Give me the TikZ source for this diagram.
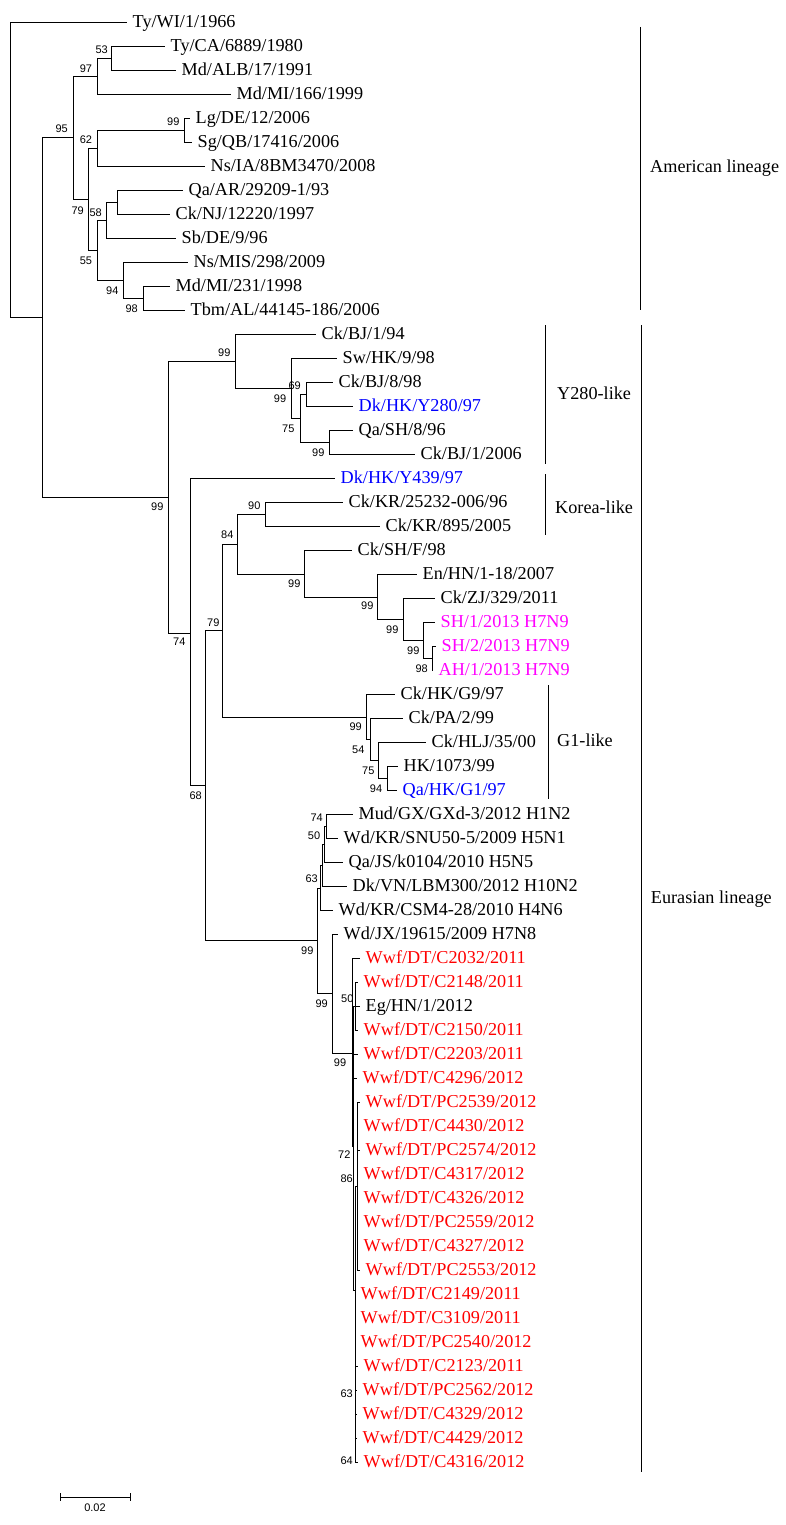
\documentclass[tikz,border=0pt]{standalone}
\usepackage{fontspec}
\setmainfont{Liberation Serif}
\newfontfamily\bsfont{Liberation Sans}
\usetikzlibrary{calc}
\definecolor{tblue}{RGB}{0,0,255}
\definecolor{tmag}{RGB}{255,0,255}
\definecolor{tred}{RGB}{255,0,0}
\tikzset{
  branch/.style={line width=0.9pt, line join=miter},
  leaf/.style={anchor=base west, inner sep=0pt, font=\fontsize{18.2}{20}\selectfont},
  bs/.style={inner sep=0pt, font=\bsfont\fontsize{11}{12}\selectfont},
  clade/.style={anchor=base west, inner sep=0pt, font=\fontsize{18.2}{20}\selectfont},
  cladebar/.style={line width=1pt}
}
\newcommand{\mkleaf}[5]{%
  \coordinate (#1) at (#2,#3);
  \path (#1) ++(5.5,5) node[leaf,text=#4] (#1-l) {#5};
}
\begin{document}
\begin{tikzpicture}[x=1pt,y=-1pt]
\fill[white] (0,0) rectangle (786,1525);
\useasboundingbox (0,0) rectangle (786,1525);

% leaves
\mkleaf{L0}{127}{22.5}{black}{Ty/WI/1/1966}
\mkleaf{L1}{165}{46.5}{black}{Ty/CA/6889/1980}
\mkleaf{L2}{176}{70.5}{black}{Md/ALB/17/1991}
\mkleaf{L3}{231}{94.5}{black}{Md/MI/166/1999}
\mkleaf{L4}{190}{118.5}{black}{Lg/DE/12/2006}
\mkleaf{L5}{192}{142.5}{black}{Sg/QB/17416/2006}
\mkleaf{L6}{205}{166.5}{black}{Ns/IA/8BM3470/2008}
\mkleaf{L7}{183}{190.5}{black}{Qa/AR/29209-1/93}
\mkleaf{L8}{170}{214.5}{black}{Ck/NJ/12220/1997}
\mkleaf{L9}{176}{238.5}{black}{Sb/DE/9/96}
\mkleaf{L10}{188}{262.5}{black}{Ns/MIS/298/2009}
\mkleaf{L11}{170}{286.5}{black}{Md/MI/231/1998}
\mkleaf{L12}{185}{310.5}{black}{Tbm/AL/44145-186/2006}
\mkleaf{L13}{316}{334.5}{black}{Ck/BJ/1/94}
\mkleaf{L14}{337}{358.5}{black}{Sw/HK/9/98}
\mkleaf{L15}{333}{382.5}{black}{Ck/BJ/8/98}
\mkleaf{L16}{353}{406.5}{tblue}{Dk/HK/Y280/97}
\mkleaf{L17}{353}{430.5}{black}{Qa/SH/8/96}
\mkleaf{L18}{415}{454.5}{black}{Ck/BJ/1/2006}
\mkleaf{L19}{335}{478.5}{tblue}{Dk/HK/Y439/97}
\mkleaf{L20}{343}{502.5}{black}{Ck/KR/25232-006/96}
\mkleaf{L21}{380}{526.5}{black}{Ck/KR/895/2005}
\mkleaf{L22}{352}{550.5}{black}{Ck/SH/F/98}
\mkleaf{L23}{417}{574.5}{black}{En/HN/1-18/2007}
\mkleaf{L24}{435}{598.5}{black}{Ck/ZJ/329/2011}
\mkleaf{L25}{435}{622.5}{tmag}{SH/1/2013 H7N9}
\mkleaf{L26}{436}{646.5}{tmag}{SH/2/2013 H7N9}
\mkleaf{L27}{433}{670.5}{tmag}{AH/1/2013 H7N9}
\mkleaf{L28}{395}{694.5}{black}{Ck/HK/G9/97}
\mkleaf{L29}{403}{718.5}{black}{Ck/PA/2/99}
\mkleaf{L30}{426}{742.5}{black}{Ck/HLJ/35/00}
\mkleaf{L31}{398}{766.5}{black}{HK/1073/99}
\mkleaf{L32}{397}{790.5}{tblue}{Qa/HK/G1/97}
\mkleaf{L33}{353}{814.5}{black}{Mud/GX/GXd-3/2012 H1N2}
\mkleaf{L34}{338}{838.5}{black}{Wd/KR/SNU50-5/2009 H5N1}
\mkleaf{L35}{343}{862.5}{black}{Qa/JS/k0104/2010 H5N5}
\mkleaf{L36}{347}{886.5}{black}{Dk/VN/LBM300/2012 H10N2}
\mkleaf{L37}{333}{910.5}{black}{Wd/KR/CSM4-28/2010 H4N6}
\mkleaf{L38}{338}{934.5}{black}{Wd/JX/19615/2009 H7N8}
\mkleaf{L39}{360}{958.5}{tred}{Wwf/DT/C2032/2011}
\mkleaf{L40}{358}{982.5}{tred}{Wwf/DT/C2148/2011}
\mkleaf{L41}{360}{1006.5}{black}{Eg/HN/1/2012}
\mkleaf{L42}{358}{1030.5}{tred}{Wwf/DT/C2150/2011}
\mkleaf{L43}{358}{1054.5}{tred}{Wwf/DT/C2203/2011}
\mkleaf{L44}{357}{1078.5}{tred}{Wwf/DT/C4296/2012}
\mkleaf{L45}{360}{1102.5}{tred}{Wwf/DT/PC2539/2012}
\mkleaf{L46}{358}{1126.5}{tred}{Wwf/DT/C4430/2012}
\mkleaf{L47}{360}{1150.5}{tred}{Wwf/DT/PC2574/2012}
\mkleaf{L48}{358}{1174.5}{tred}{Wwf/DT/C4317/2012}
\mkleaf{L49}{358}{1198.5}{tred}{Wwf/DT/C4326/2012}
\mkleaf{L50}{358}{1222.5}{tred}{Wwf/DT/PC2559/2012}
\mkleaf{L51}{358}{1246.5}{tred}{Wwf/DT/C4327/2012}
\mkleaf{L52}{360}{1270.5}{tred}{Wwf/DT/PC2553/2012}
\mkleaf{L53}{355}{1294.5}{tred}{Wwf/DT/C2149/2011}
\mkleaf{L54}{355}{1318.5}{tred}{Wwf/DT/C3109/2011}
\mkleaf{L55}{355}{1342.5}{tred}{Wwf/DT/PC2540/2012}
\mkleaf{L56}{358}{1366.5}{tred}{Wwf/DT/C2123/2011}
\mkleaf{L57}{357}{1390.5}{tred}{Wwf/DT/PC2562/2012}
\mkleaf{L58}{357}{1414.5}{tred}{Wwf/DT/C4329/2012}
\mkleaf{L59}{357}{1438.5}{tred}{Wwf/DT/C4429/2012}
\mkleaf{L60}{358}{1462.5}{tred}{Wwf/DT/C4316/2012}

% internal nodes
\coordinate (root) at (10,170);
\coordinate (nK) at (42,317);
\coordinate (nA) at (73,137.5);
\coordinate (nB) at (97,76.5);
\coordinate (nC) at (111,58.5);
\coordinate (nE) at (88,199);
\coordinate (nD) at (97,148);
\coordinate (nLS) at (184,130.5);
\coordinate (nF) at (97,250.5);
\coordinate (nG) at (106,220.5);
\coordinate (nH) at (117,202.5);
\coordinate (nI) at (123,280.5);
\coordinate (nJ) at (143,298.5);
\coordinate (nL) at (168,497);
\coordinate (nM) at (235,361.5);
\coordinate (nN) at (291,388.5);
\coordinate (nP) at (300,418.5);
\coordinate (nO) at (306,394.5);
\coordinate (nQ) at (329,442.5);
\coordinate (nR) at (190,633);
\coordinate (nS) at (205,785);
\coordinate (nT) at (222,630.5);
\coordinate (nU) at (237,544);
\coordinate (nW) at (265,514.5);
\coordinate (nX) at (304,574);
\coordinate (nY) at (377,597);
\coordinate (nZ) at (403,619.5);
\coordinate (nAA) at (423,640.5);
\coordinate (nAB) at (432,658.5);
\coordinate (nAC) at (366,717);
\coordinate (nAD) at (370,739.5);
\coordinate (nAE) at (378,760.5);
\coordinate (nAF) at (387,778.5);
\coordinate (nV) at (317,940);
\coordinate (nAI) at (320,888);
\coordinate (nAIp) at (322,865.5);
\coordinate (nAG) at (324,844.5);
\coordinate (nAH) at (326,826.5);
\coordinate (nAJ) at (332,993);
\coordinate (nAK) at (352,1053);
\coordinate (nAL) at (353.3,1146);
\coordinate (nAN) at (355.5,1006.5);
\coordinate (nAP) at (355,1290);
\coordinate (nAM) at (357,1186.5);
\coordinate (nAQ) at (355.5,1402.5);
\coordinate (nAR) at (355.5,1450.5);

% branches
\foreach \p/\c in {root/L0, root/nK, nK/nA, nK/nL, nA/nB, nA/nE, nB/nC, nB/L3,
  nC/L1, nC/L2, nE/nD, nE/nF, nD/nLS, nD/L6, nLS/L4, nLS/L5, nF/nG, nF/nI,
  nG/nH, nG/L9, nH/L7, nH/L8, nI/L10, nI/nJ, nJ/L11, nJ/L12,
  nL/nM, nL/nR, nM/L13, nM/nN, nN/L14, nN/nP, nP/nO, nP/nQ, nO/L15, nO/L16,
  nQ/L17, nQ/L18, nR/L19, nR/nS, nS/nT, nS/nV, nT/nU, nT/nAC, nU/nW, nU/nX,
  nW/L20, nW/L21, nX/L22, nX/nY, nY/L23, nY/nZ, nZ/L24, nZ/nAA, nAA/L25, nAA/nAB,
  nAB/L26, nAB/L27, nAC/L28, nAC/nAD, nAD/L29, nAD/nAE, nAE/L30, nAE/nAF,
  nAF/L31, nAF/L32, nV/nAI, nV/nAJ, nAI/nAIp, nAI/L37, nAIp/nAG, nAIp/L36,
  nAG/nAH, nAG/L35, nAH/L33, nAH/L34, nAJ/L38, nAJ/nAK, nAK/L39, nAK/nAL,
  nAL/nAN, nAL/L43, nAL/L44, nAL/nAP,
  nAP/nAM, nAP/L53, nAP/L54, nAP/L55, nAP/L56, nAP/nAQ, nAP/nAR,
  nAN/L40, nAN/L41, nAN/L42,
  nAM/L45, nAM/L46, nAM/L47, nAM/L48, nAM/L49, nAM/L50, nAM/L51, nAM/L52,
  nAQ/L57, nAQ/L58, nAR/L59, nAR/L60}
  \draw[branch] (\p) |- (\c);

% bootstrap values
\node[bs] (b1) at (61.7,128.3) {95};
\node[bs] (b2) at (86,68.3) {97};
\node[bs] (b3) at (101.7,50) {53};
\node[bs] (b4) at (173.3,121.7) {99};
\node[bs] (b5) at (86,139.3) {62};
\node[bs] (b6) at (77.7,210.7) {79};
\node[bs] (b7) at (95.7,212.3) {58};
\node[bs] (b8) at (86,260.7) {55};
\node[bs] (b9) at (112.3,291) {94};
\node[bs] (b10) at (131.7,308.3) {98};
\node[bs] (b11) at (157.3,506.7) {99};
\node[bs] (b12) at (224.3,352.3) {99};
\node[bs] (b13) at (294.7,385.7) {69};
\node[bs] (b14) at (280,399) {99};
\node[bs] (b15) at (288.3,428.3) {75};
\node[bs] (b16) at (318.3,452.7) {99};
\node[bs] (b17) at (254.3,505.7) {90};
\node[bs] (b18) at (227.3,535) {84};
\node[bs] (b19) at (294.3,584) {99};
\node[bs] (b20) at (367.3,605.7) {99};
\node[bs] (b21) at (392.3,629.3) {99};
\node[bs] (b22) at (413.3,650.7) {99};
\node[bs] (b23) at (421.7,669) {98};
\node[bs] (b24) at (213.3,622.3) {79};
\node[bs] (b25) at (179.3,641.7) {74};
\node[bs] (b26) at (195.7,796) {68};
\node[bs] (b27) at (355.7,726.7) {99};
\node[bs] (b28) at (358.3,750) {54};
\node[bs] (b29) at (368.3,770.7) {75};
\node[bs] (b30) at (376,789) {94};
\node[bs] (b31) at (316.7,817.3) {74};
\node[bs] (b32) at (314,835.7) {50};
\node[bs] (b33) at (311.7,879) {63};
\node[bs] (b34) at (307.3,950.7) {99};
\node[bs] (b35) at (321.7,1003.3) {99};
\node[bs] (b36) at (347.3,998.3) {50};
\node[bs] (b37) at (340,1062.7) {99};
\node[bs] (b38) at (344.3,1155) {72};
\node[bs] (b39) at (346.7,1178.3) {86};
\node[bs] (b40) at (346.7,1394) {63};
\node[bs] (b41) at (346.7,1460.7) {64};

% clade bars and labels
\coordinate (amT) at (640.5,27);  \coordinate (amB) at (640.5,310);
\coordinate (euT) at (641,325);   \coordinate (euB) at (641,1472);
\coordinate (yT) at (545,325);    \coordinate (yB) at (545,463.5);
\coordinate (kT) at (545,474);    \coordinate (kB) at (545,535);
\coordinate (gT) at (548,685);    \coordinate (gB) at (548,799);
\draw[cladebar] (amT) -- (amB);
\draw[cladebar] (euT) -- (euB);
\draw[cladebar] (yT) -- (yB);
\draw[cladebar] (kT) -- (kB);
\draw[cladebar] (gT) -- (gB);
\node[clade] (cam) at (650,173) {American lineage};
\node[clade] (ceu) at (650.7,903.5) {Eurasian lineage};
\node[clade] (cy) at (557,399) {Y280-like};
\node[clade] (ck) at (555,513) {Korea-like};
\node[clade] (cg) at (557,746) {G1-like};

% scale bar
\coordinate (sbL) at (60,1497);
\coordinate (sbR) at (130,1497);
\draw[branch] (sbL) -- (sbR);
\draw[branch] ($(sbL)+(0,-4)$) -- ($(sbL)+(0,4)$);
\draw[branch] ($(sbR)+(0,-4)$) -- ($(sbR)+(0,4)$);
\node[bs] (sbt) at (95,1508) {0.02};
\end{tikzpicture}
\end{document}
